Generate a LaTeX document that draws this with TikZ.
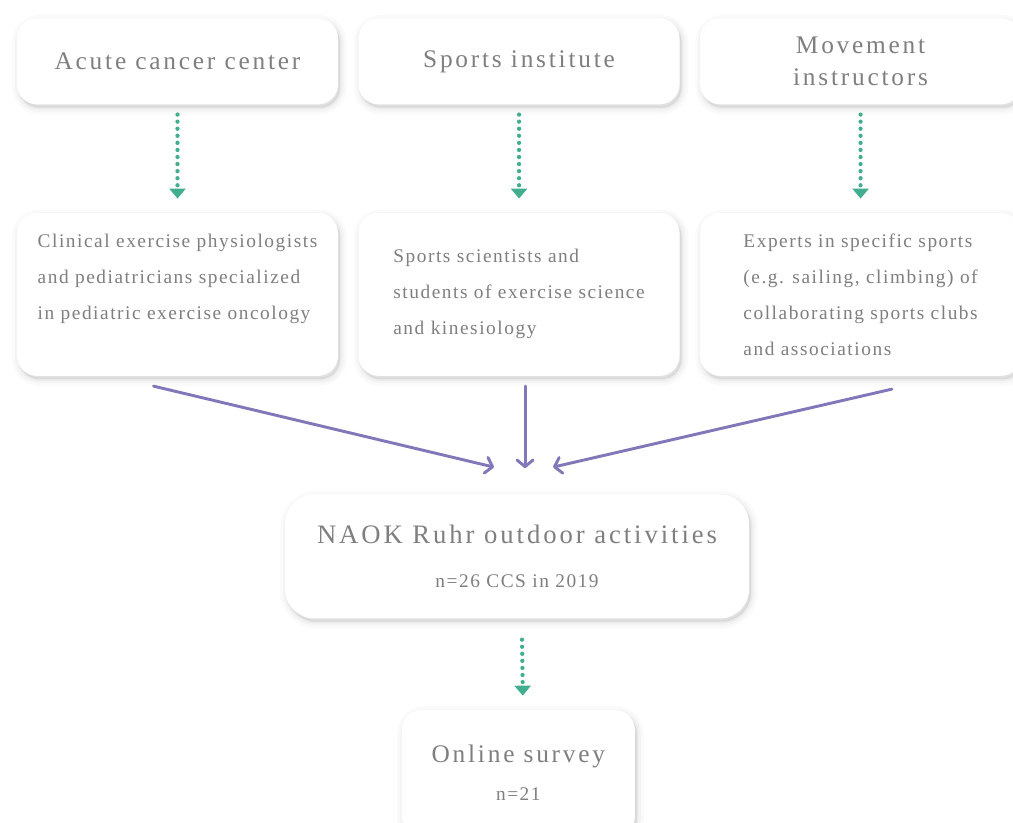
\documentclass[tikz,border=0pt]{standalone}
\usepackage{fontspec}
\setmainfont{Liberation Serif}
\usepackage{tikz}
\usetikzlibrary{positioning, arrows.meta, shadows}

\definecolor{boxtext}{HTML}{7F7F7F}
\definecolor{dotgreen}{HTML}{40AE8F}
\definecolor{flowpurple}{HTML}{8078B8}

\newfontfamily\headfont[LetterSpace=11]{Liberation Serif}
\newfontfamily\bodyfont[LetterSpace=8]{Liberation Serif}

\tikzset{
  card/.style={rounded corners=15pt, fill=white, text=boxtext, inner sep=0pt,
    general shadow={shadow xshift=1.5pt, shadow yshift=-2.5pt, fill=black, draw=black, line width=10pt, opacity=0.018},
    general shadow={shadow xshift=1.5pt, shadow yshift=-2.5pt, fill=black, draw=black, line width=6pt, opacity=0.025},
    general shadow={shadow xshift=1.5pt, shadow yshift=-2.5pt, fill=black, draw=black, line width=2.5pt, opacity=0.035}},
  topcard/.style={card, minimum width=240.75pt, minimum height=64.5pt, align=center,
    font=\headfont\fontsize{19}{24}\selectfont},
  midcard/.style={card, minimum width=240.75pt, minimum height=122.25pt, align=left,
    font=\bodyfont\fontsize{14.5}{27}\selectfont},
  dotarrow/.style={dotgreen, line width=3.2pt, line cap=round, dash pattern=on 0pt off 5.3pt,
    -{Triangle[length=7.5pt, width=12pt]}, shorten <=7.5pt, shorten >=10.5pt},
  flowarrow/.style={flowpurple, line width=2.2pt, line cap=round,
    -{Straight Barb[length=5pt, width=12pt, round]}}
}

\begin{document}
\begin{tikzpicture}
  \useasboundingbox (0,0) rectangle (759.75pt,-617.25pt);

  % sources
  \node[topcard] (acute) at (133.125pt,-46pt) {Acute cancer center};
  \node[topcard, right = 15pt of acute] (sports) {Sports institute};
  \node[topcard, right = 15pt of sports] (movement) {Movement\\instructors};

  % groups of instructors
  \node[midcard, below = 81pt of acute] (clinical) {Clinical exercise physiologists\\and pediatricians specialized\\in pediatric exercise oncology\\[-8pt]\strut};
  \node[midcard, below = 81pt of sports] (scientists) {Sports scientists and\\students of exercise science\\and kinesiology};
  \node[midcard, below = 81pt of movement] (experts) {Experts in specific sports\\(e.g. sailing, climbing) of\\collaborating sports clubs\\and associations};

  \node[card, minimum width=348pt, minimum height=93pt, rounded corners=22pt, align=center,
    below = 88.5pt of scientists, xshift=-1.5pt] (naok)
    {{\headfont\fontsize{20}{24}\selectfont NAOK Ruhr outdoor activities}\\[21pt]
     {\bodyfont\fontsize{14.5}{16}\selectfont n=26 CCS in 2019}};

  \node[card, minimum width=174.75pt, minimum height=94.5pt, align=center,
    below = 68.25pt of naok, xshift=1pt] (survey)
    {{\headfont\fontsize{19}{22}\selectfont Online survey}\\[14pt]
     {\bodyfont\fontsize{14.5}{16}\selectfont n=21}};

  \draw[dotarrow] (acute) -- (clinical);
  \draw[dotarrow] (sports) -- (scientists);
  \draw[dotarrow] (movement) -- (experts);
  \draw[dotarrow, shorten <=15.75pt] ([xshift=3.5pt]naok.south) -- ([xshift=3.5pt]survey.north);

  \draw[flowarrow] ([xshift=-18pt, yshift=-7.5pt]clinical.south) -- ([xshift=-17.25pt, yshift=20.25pt]naok.north);
  \draw[flowarrow] ([xshift=4.5pt, yshift=-7.5pt]scientists.south) -- ([xshift=6pt, yshift=19.5pt]naok.north);
  \draw[flowarrow] ([xshift=23.5pt, yshift=-9.75pt]experts.south) -- ([xshift=27pt, yshift=20.25pt]naok.north);
\end{tikzpicture}
\end{document}
